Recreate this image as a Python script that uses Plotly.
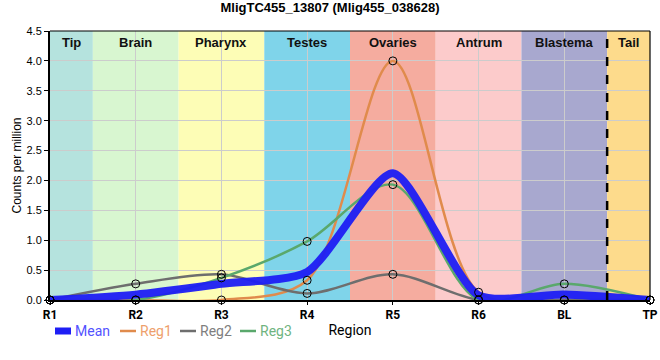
import plotly.graph_objects as go

regions = ["R1", "R2", "R3", "R4", "R5", "R6", "BL", "TP"]
mean_vals = [0.0, 0.09, 0.27, 0.47, 2.12, 0.08, 0.09, 0.0]
reg1_vals = [0.0, 0.0, 0.0, 0.33, 4.0, 0.13, 0.0, 0.0]
reg2_vals = [0.0, 0.27, 0.43, 0.11, 0.43, 0.0, 0.0, 0.0]
reg3_vals = [0.0, 0.0, 0.37, 0.98, 1.93, 0.0, 0.27, 0.0]

band_names = ["Tip", "Brain", "Pharynx", "Testes", "Ovaries", "Antrum", "Blastema", "Tail"]
band_starts = [0, 0.5, 1.5, 2.5, 3.5, 4.5, 5.5, 6.5]
band_ends = [0.5, 1.5, 2.5, 3.5, 4.5, 5.5, 6.5, 7]
band_colors = ["#b5e3de", "#d8f6d0", "#fdfdb6", "#7fd4ea", "#f5ac9f", "#fccbcb", "#a8a8cf", "#fddb8c"]

legend_names = ["Mean", "Reg1", "Reg2", "Reg3"]
legend_colors = ["#1e1ef5", "#e08b4c", "#6e6e6e", "#5aa86c"]
legend_text_colors = ["#5252ff", "#ee9f6c", "#7e7e7e", "#6fb47f"]

x = list(range(len(regions)))

fig = go.Figure()

for s, e, c, n in zip(band_starts, band_ends, band_colors, band_names):
    fig.add_shape(type="rect", xref="x", yref="paper", x0=s, x1=e, y0=0, y1=1,
                  fillcolor=c, line_width=0, layer="below")
    fig.add_annotation(x=(s + e) / 2, y=1, xref="x", yref="paper", yanchor="top",
                       text="<b>" + n + "</b>", showarrow=False, yshift=-2,
                       font=dict(family="Liberation Sans, Arial", size=13, color="#111"))

fig.add_shape(type="line", xref="x", yref="paper", x0=6.5, x1=6.5, y0=0, y1=1,
              line=dict(color="black", width=2.5, dash="dash"))

series = [("Reg1", reg1_vals, legend_colors[1]), ("Reg2", reg2_vals, legend_colors[2]), ("Reg3", reg3_vals, legend_colors[3])]

for name, vals, col in series:
    fig.add_trace(go.Scatter(x=x, y=vals, mode="lines", name=name, showlegend=False,
                             line=dict(color=col, width=2.5, shape="spline", smoothing=0.9)))

fig.add_trace(go.Scatter(x=x, y=mean_vals, mode="lines", name="Mean", showlegend=False,
                         line=dict(color=legend_colors[0], width=8, shape="spline", smoothing=0.65), opacity=0.95))

for name, vals, col in series:
    fig.add_trace(go.Scatter(x=x, y=vals, mode="markers", showlegend=False, cliponaxis=False,
                             marker=dict(symbol="circle-open", size=8, color="black", line=dict(width=1))))

# manual legend (paper coords: plot spans px 50..650 horizontally, 31..300 vertically)
def px_x(p):
    return (p - 50) / 600.0

def px_y(p):
    return (300 - p) / 269.0

leg_sym_x = [55, 120, 180, 240]
for i, (nm, col, tcol) in enumerate(zip(legend_names, legend_colors, legend_text_colors)):
    x0 = leg_sym_x[i]
    if i == 0:
        fig.add_shape(type="rect", xref="paper", yref="paper", x0=px_x(x0), x1=px_x(x0 + 16),
                      y0=px_y(334.5), y1=px_y(327.5), fillcolor=col, line_width=0)
    else:
        fig.add_shape(type="line", xref="paper", yref="paper", x0=px_x(x0), x1=px_x(x0 + 16),
                      y0=px_y(331), y1=px_y(331), line=dict(color=col, width=2.5))
    fig.add_annotation(x=px_x(x0 + 18), y=px_y(331), xref="paper", yref="paper", xanchor="left",
                       yanchor="middle", text=nm, showarrow=False,
                       font=dict(family="Roboto", size=14, color=tcol))

fig.update_layout(
    width=660, height=360,
    margin=dict(l=50, r=10, t=31, b=60),
    plot_bgcolor="white", paper_bgcolor="white",
    title=dict(text="<b>MligTC455_13807 (Mlig455_038628)</b>", x=0.5, xanchor="center", y=1, yanchor="top",
               pad=dict(t=3),
               font=dict(family="Liberation Sans, Arial", size=13, color="black")),
    showlegend=False,
)

fig.update_xaxes(range=[0, 7], tickvals=x, ticktext=["<b>" + r + "</b>" for r in regions],
                 tickfont=dict(family="Roboto", size=12, color="black"), automargin=False,
                 showgrid=True, gridcolor="#cccccc", gridwidth=1,
                 showline=True, linecolor="black", linewidth=2, mirror=False,
                 ticks="outside", ticklen=3, tickcolor="black",
                 title=dict(text="Region", font=dict(family="Roboto", size=14, color="black"), standoff=4),
                 zeroline=False)
fig.update_yaxes(range=[0, 4.5], dtick=0.5, tickformat=".1f", automargin=False,
                 tickfont=dict(family="Liberation Sans, Arial", size=11, color="black"),
                 showgrid=True, gridcolor="#cccccc", gridwidth=1,
                 showline=True, linecolor="black", linewidth=2,
                 ticks="outside", ticklen=4, tickcolor="black",
                 title=dict(text="Counts per million", font=dict(family="Liberation Sans, Arial", size=12, color="black"), standoff=2),
                 zeroline=False)

# thin top and right frame
fig.add_shape(type="line", xref="paper", yref="paper", x0=0, x1=1, y0=1, y1=1, line=dict(color="black", width=1.2))
fig.add_shape(type="line", xref="paper", yref="paper", x0=1, x1=1, y0=0, y1=1, line=dict(color="black", width=1.2))

fig.write_html("out.html", config={"displayModeBar": False},
               post_script="document.body.style.margin='0';")
